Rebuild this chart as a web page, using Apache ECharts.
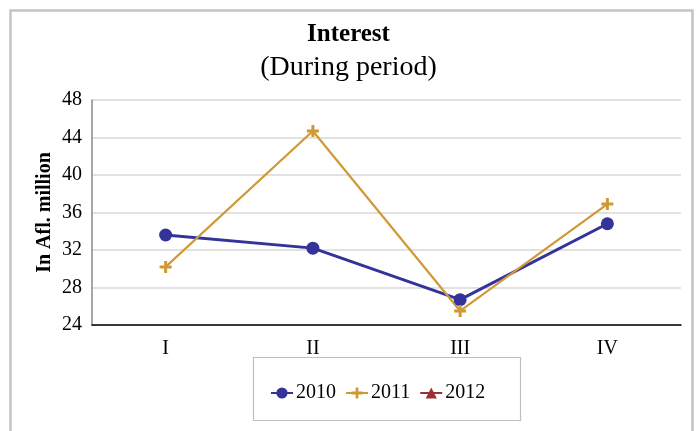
<!DOCTYPE html>
<html>
<head>
<meta charset="utf-8">
<script src="https://cdn.jsdelivr.net/npm/echarts@6/dist/echarts.min.js"></script>
<style>
html,body{margin:0;padding:0;background:#fff;}
#chart{width:697px;height:431px;}
</style>
</head>
<body>
<div id="chart"></div>
<script>
const categories = ['I', 'II', 'III', 'IV'];
const seriesNames = ['2010', '2011', '2012'];
const values2010 = [33.6, 32.2, 26.7, 34.8];
const values2011 = [30.2, 44.7, 25.5, 36.9];
const values2012 = [];
const yTicks = { min: 24, max: 48, interval: 4 };

const FONT = 'Liberation Serif';
const crossPath = 'path://M3,0H5V3H8V5H5V8H3V5H0V3H3Z';

const chart = echarts.init(document.getElementById('chart'), null, { renderer: 'canvas' });
chart.setOption({
  backgroundColor: '#ffffff',
  animation: false,
  title: [
    { text: 'Interest', left: 'center', top: 17,
      textStyle: { fontFamily: FONT, fontSize: 25, fontWeight: 'bold', color: '#000' } },
    { text: '(During period)', left: 'center', top: 49,
      textStyle: { fontFamily: FONT, fontSize: 28, fontWeight: 'normal', color: '#000' } }
  ],
  graphic: [
    { type: 'rect', shape: { x: 10.5, y: 10.5, width: 682, height: 460 },
      style: { fill: 'none', stroke: '#c4c4c4', lineWidth: 2.5 }, z: -1 },
    { type: 'rect', shape: { x: 253.5, y: 357.5, width: 267, height: 63 },
      style: { fill: '#fff', stroke: '#bfbfbf', lineWidth: 1.2 }, z: 0 }
  ],
  legend: {
    data: seriesNames,
    left: 265, top: 378,
    itemWidth: 22, itemHeight: 14, itemGap: 9,
    textStyle: { fontFamily: FONT, fontSize: 20, color: '#000', padding: [0, 0, 0, -2] },
    z: 5
  },
  grid: { left: 92, right: 16, top: 100, bottom: 106 },
  xAxis: {
    type: 'category',
    data: categories,
    boundaryGap: true,
    axisLine: { lineStyle: { color: '#000', width: 1.5 } },
    axisTick: { show: false },
    axisLabel: { fontFamily: FONT, fontSize: 20, color: '#000', margin: 14 },
    splitLine: { show: false }
  },
  yAxis: {
    type: 'value',
    min: yTicks.min, max: yTicks.max, interval: yTicks.interval,
    name: 'In Afl. million',
    nameLocation: 'middle',
    nameGap: 37,
    nameMoveOverlap: false,
    nameTextStyle: { fontFamily: FONT, fontSize: 20, fontWeight: 'bold', color: '#000' },
    axisLine: { show: true, lineStyle: { color: '#8a8a8a', width: 1.5 } },
    axisTick: { show: false },
    axisLabel: { fontFamily: FONT, fontSize: 20, color: '#000', margin: 10 },
    splitLine: { lineStyle: { color: '#d9d9d9', width: 1.5 } }
  },
  series: [
    { name: seriesNames[0], type: 'line', data: values2010,
      symbol: 'circle', symbolSize: 13,
      lineStyle: { color: '#333399', width: 3 },
      itemStyle: { color: '#333399' } },
    { name: seriesNames[1], type: 'line', data: values2011,
      symbol: crossPath, symbolSize: 12,
      lineStyle: { color: '#cf9a35', width: 2.2 },
      itemStyle: { color: '#cf9a35' } },
    { name: seriesNames[2], type: 'line', data: values2012,
      symbol: 'triangle', symbolSize: 13,
      lineStyle: { color: '#993333', width: 2 },
      itemStyle: { color: '#993333' } }
  ]
});
</script>
</body>
</html>
